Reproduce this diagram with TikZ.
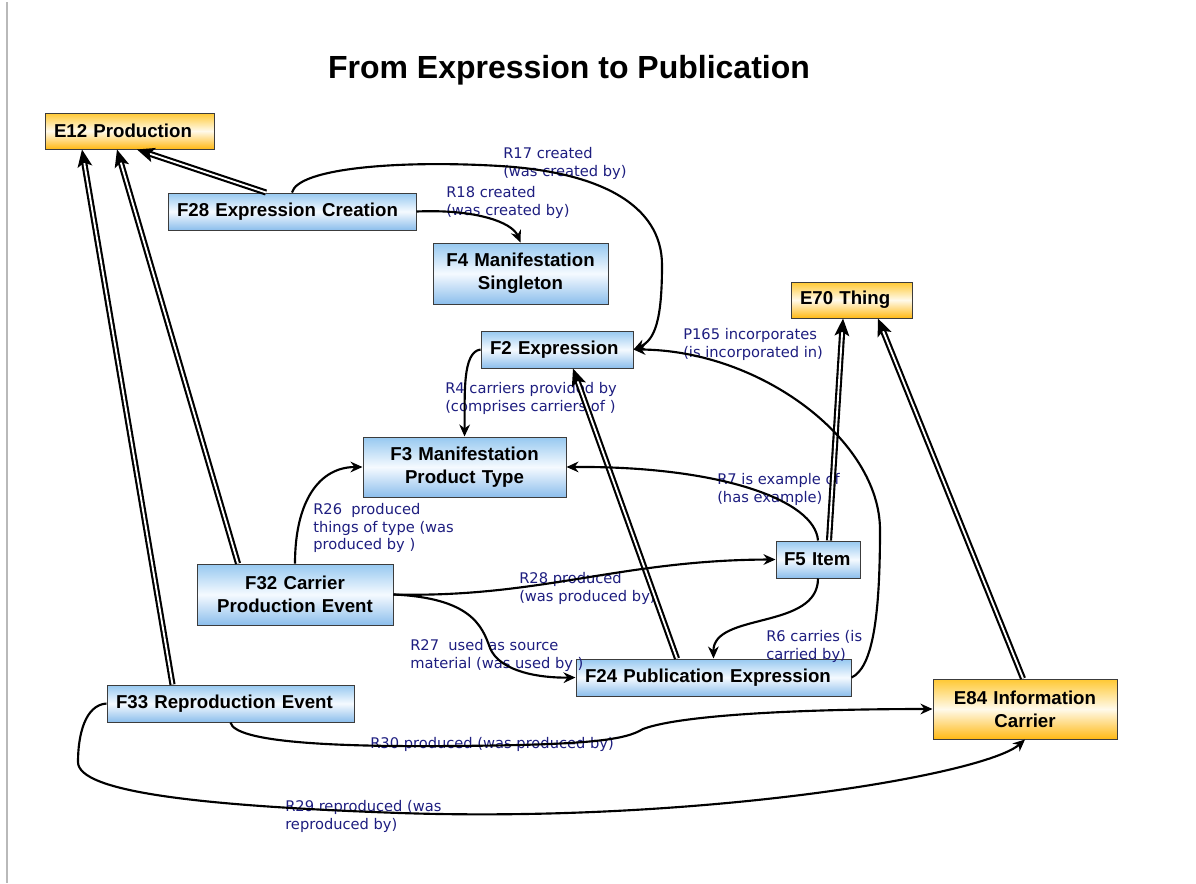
\documentclass[tikz,border=0pt]{standalone}
\usepackage{fontspec}
\setmainfont{Liberation Sans}
\newfontfamily\labfont{DejaVu Sans}
\usetikzlibrary{arrows.meta,calc}
\definecolor{lab}{RGB}{30,30,128}
\definecolor{boxline}{RGB}{60,60,60}
\definecolor{bluetop}{RGB}{150,200,240}
\definecolor{bluebot}{RGB}{140,190,236}
\definecolor{bluemid}{RGB}{245,250,255}
\definecolor{orgtop}{RGB}{255,200,50}
\definecolor{orgmid}{RGB}{255,250,235}
\definecolor{orgbot}{RGB}{255,185,20}
\begin{document}
\begin{tikzpicture}[x=0.75pt,y=-0.75pt,
  base/.style={draw=boxline, line width=0.75pt, inner xsep=6.75pt, inner ysep=0pt,
    font=\bfseries\fontsize{14}{17.5}\selectfont},
  bluebox/.style={base, top color=bluetop, bottom color=bluebot, middle color=bluemid},
  orgbox/.style={base, top color=orgtop, bottom color=orgbot, middle color=orgmid},
  lbl/.style={font=\labfont\fontsize{11}{13.3}\selectfont, text=lab, align=left, inner sep=0pt, anchor=north west},
  rel/.style={line width=1.6pt, -{Stealth[length=9pt,width=8pt]}},
  isa/.style={double=white, double distance=1.4pt, line width=1.6pt, -{Stealth[length=13pt,width=11pt,inset=3pt]}},
]
\useasboundingbox (0,0) rectangle (1196,883);
\fill[white] (0,0) rectangle (1196,883);
\draw[gray!55, line width=0.9pt] (7,2) -- (7,883);

\node[font=\bfseries\fontsize{24}{28}\selectfont] (title) at (569,70) {From Expression to Publication};

% nodes
\node[orgbox, text width=113.25pt, minimum height=27pt, align=left] (E12) at (129.5,131) {E12 Production};
\node[bluebox, text width=172.5pt, minimum height=27.75pt, align=left] (F28) at (292,211.5) {F28 Expression Creation};
\node[bluebox, text width=117.75pt, minimum height=45.75pt, align=center] (F4) at (520.5,273.5) {F4 Manifestation\\Singleton};
\node[bluebox, text width=100.5pt, minimum height=27.75pt, align=left] (F2) at (557,349.5) {F2 Expression};
\node[orgbox, text width=77.25pt, minimum height=27pt, align=left] (E70) at (851.5,300) {E70 Thing};
\node[bluebox, text width=138.75pt, minimum height=45pt, align=center] (F3) at (464.5,467) {F3 Manifestation\\Product Type};
\node[bluebox, inner xsep=4pt, text width=55pt, minimum height=27.75pt, align=left] (F5) at (818,559.5) {\hspace*{2pt}F5 Item};
\node[bluebox, text width=133.5pt, minimum height=45.75pt, align=center] (F32) at (295,594.5) {F32 Carrier\\Production Event};
\node[bluebox, text width=192.75pt, minimum height=27.75pt, align=left] (F24) at (713.5,677.5) {F24 Publication Expression};
\node[bluebox, text width=171.75pt, minimum height=27.75pt, align=left] (F33) at (230.5,703.5) {F33 Reproduction Event};
\node[orgbox, text width=124.5pt, minimum height=45pt, align=center] (E84) at (1025,709) {E84 Information\\Carrier};

% labels
\node[lbl] (l17) at (503,147) {R17 created\\(was created by)};
\node[lbl] (l18) at (446,186) {R18 created\\(was created by)};
\node[lbl] (l4) at (445,382) {R4 carriers provided by\\(comprises carriers of )};
\node[lbl] (l165) at (683,328) {P165 incorporates\\(is incorporated in)};
\node[lbl] (l7) at (717,473) {R7 is example of\\(has example)};
\node[lbl] (l26) at (313,503) {R26\ \ produced\\things of type (was\\produced by )};
\node[lbl] (l28) at (519,572) {R28 produced\\(was produced by)};
\node[lbl] (l27) at (410,639) {R27\ \ used as source\\material (was used by )};
\node[lbl] (l6) at (766,630) {R6 carries (is\\carried by)};
\node[lbl] (l30) at (370,737) {R30 produced (was produced by)};
\node[lbl] (l29) at (285,800) {R29 reproduced (was\\reproduced by)};

% inheritance arrows
\draw[isa] ($(F28.north)+(-26,0)$) -- ($(E12.south)+(7.5,0)$);
\draw[isa] ($(F32.north)+(-57,0)$) -- ($(E12.south)+(-12.5,0)$);
\draw[isa] ($(F33.north)+(-58,0)$) -- ($(E12.south)+(-47.5,0)$);
\draw[isa] ($(F24.north)+(-36.5,0)$) -- ($(F2.south)+(16,0)$);
\draw[isa] ($(F5.north)+(11,0)$) -- ($(E70.south)+(-8.5,0)$);
\draw[isa] ($(E84.north)+(-2,0)$) -- ($(E70.south)+(26.5,0)$);

% relation arrows
\draw[rel] (F28.north) .. controls (298,168) and (400,160) .. (500,166)
  .. controls (600,172) and (662,205) .. (662,265)
  .. controls (662,320) and (655,340) .. (F2.east);
\draw[rel] (F28.east) .. controls (475,209) and (512,222) .. (F4.north);
\draw[rel] (F2.west) .. controls (462,352) and (465,395) .. (F3.north);
\draw[rel] (F24.east) .. controls (872,668) and (880,620) .. (880,530)
  .. controls (880,440) and (760,350) .. (F2.east);
\draw[rel] (F5.north) .. controls (815,500) and (720,466) .. (F3.east);
\draw[rel] (F32.north) .. controls (295,500) and (320,467) .. (F3.west);
\draw[rel] (F32.east) .. controls (540,598) and (620,560) .. (F5.west);
\draw[rel] (F32.east) .. controls (470,598) and (482,625) .. (490,648)
  .. controls (500,672) and (540,678) .. (F24.west);
\draw[rel] (F5.south) .. controls (818,630) and (713,612) .. (F24.north);
\draw[rel] (F33.south) .. controls (235,742) and (330,747) .. (450,746)
  .. controls (590,745) and (625,740) .. (643,729)
  .. controls (680,715) and (800,709) .. (E84.west);
\draw[rel] (F33.west) .. controls (85,705) and (78,735) .. (78,762)
  .. controls (78,792) and (200,806) .. (400,813)
  .. controls (700,823) and (985,775) .. (E84.south);
\end{tikzpicture}
\end{document}
